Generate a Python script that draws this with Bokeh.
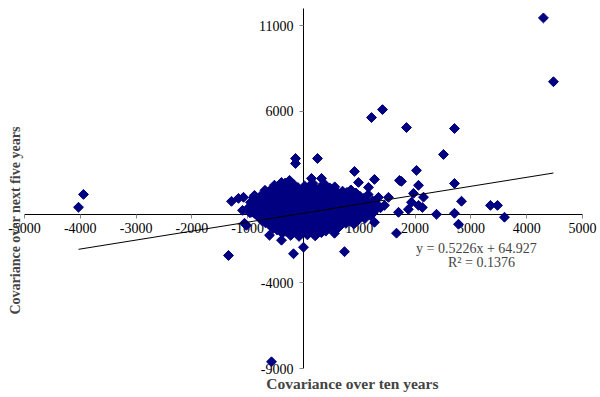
import math
from bokeh.plotting import figure
from bokeh.models import LinearAxis, FixedTicker, Label, Range1d, PrintfTickFormatter
from bokeh.embed import file_html
from bokeh.resources import INLINE

# ---- data (covariance over ten years, covariance over next five years) ----
core_points = [
    (-520, 1700), (-330, 1820), (-180, 1760), (20, 1650), (170, 1800), (390, 1720), (560, 1600),
    (-690, 1400), (-560, 1520), (-420, 1430), (-260, 1480), (-90, 1390), (60, 1510), (230, 1440),
    (380, 1380), (520, 1470), (700, 1350), (850, 1420),
    (-760, 1100), (-610, 1180), (-470, 1130), (-330, 1200), (-190, 1090), (-40, 1160), (110, 1210),
    (270, 1120), (420, 1170), (580, 1080), (730, 1190), (880, 1130), (1010, 1060), (1160, 1150),
    (-820, 820), (-680, 890), (-520, 840), (-390, 900), (-230, 800), (-80, 870), (70, 830),
    (220, 910), (360, 850), (510, 790), (660, 880), (800, 820), (950, 900), (1100, 840), (1240, 780),
    (-860, 520), (-720, 580), (-580, 510), (-440, 600), (-300, 540), (-150, 490), (0, 570),
    (140, 530), (290, 600), (430, 500), (580, 560), (720, 610), (870, 530), (1020, 580),
    (1170, 500), (1320, 560),
    (-900, 230), (-760, 280), (-610, 200), (-470, 300), (-330, 250), (-180, 190), (-40, 280),
    (110, 220), (260, 310), (400, 240), (550, 180), (700, 290), (840, 230), (990, 270),
    (1140, 200), (1290, 260),
    (-830, -80), (-690, -20), (-550, -100), (-400, 0), (-260, -60), (-120, -120), (30, -30),
    (180, -90), (320, 20), (470, -70), (610, -10), (760, -110), (900, -40), (1050, 10), (1200, -80),
    (-740, -380), (-600, -320), (-450, -400), (-310, -300), (-170, -370), (-30, -330), (120, -410),
    (260, -350), (410, -290), (550, -380), (700, -320), (840, -400), (980, -340),
    (-610, -620), (-470, -700), (-320, -640), (-180, -690), (-40, -610), (100, -680), (250, -630),
    (390, -710), (540, -660), (680, -600),
    (-470, -920), (-320, -990), (-180, -940), (-40, -1010), (110, -960), (260, -900), (400, -980),
    (-230, -1230), (-80, -1290), (70, -1200), (210, -1260),
]

fill_points = [
    (-430, 1590), (-250, 1630), (-100, 1560), (100, 1620), (300, 1580), (470, 1540),
    (-620, 1290), (-480, 1310), (-340, 1330), (-170, 1260), (-10, 1300), (160, 1340),
    (320, 1260), (460, 1300), (620, 1250), (780, 1280), (940, 1240),
    (-900, 980), (-750, 1010), (-600, 1040), (-420, 990), (-270, 1030), (-110, 980),
    (30, 1020), (190, 990), (340, 1040), (500, 960), (650, 1010), (800, 980), (960, 1000),
    (1090, 950), (-950, 700), (-800, 680), (-650, 730), (-500, 690), (-350, 720),
    (-200, 660), (-60, 720), (80, 690), (230, 740), (380, 680), (520, 700), (660, 730),
    (810, 690), (960, 720), (1110, 680), (1260, 660), (-980, 400), (-830, 380),
    (-680, 430), (-530, 390), (-380, 410), (-230, 370), (-90, 420), (60, 380),
    (200, 440), (350, 370), (490, 420), (640, 400), (790, 380), (930, 420), (1080, 370),
    (1230, 410), (1380, 380), (-960, 90), (-820, 110), (-670, 70), (-520, 130),
    (-380, 100), (-230, 60), (-80, 120), (60, 80), (210, 130), (360, 90), (510, 110),
    (660, 60), (800, 120), (950, 90), (1100, 130), (1250, 80), (-780, -220),
    (-640, -180), (-500, -240), (-350, -190), (-210, -220), (-70, -170), (80, -230),
    (230, -200), (370, -160), (520, -230), (660, -190), (800, -240), (950, -200),
    (1100, -250), (-680, -500), (-540, -520), (-390, -480), (-250, -540), (-100, -490),
    (40, -520), (190, -500), (330, -540), (480, -500), (620, -480), (760, -530),
    (900, -560), (-540, -820), (-400, -780), (-250, -830), (-110, -800), (40, -840),
    (180, -790), (330, -820), (470, -780), (610, -830), (-380, -1100), (-240, -1090),
    (-100, -1130), (40, -1080), (180, -1110), (320, -1070),
]

edge_points = [
    (-1290, 756), (-1165, 930), (-1075, 990), (-878, 1105), (-878, 580), (-1093, 230),
    (-932, 120), (-1022, -640), (-1057, -523), (-878, 58),
    (-394, 1860), (-250, 1980), (143, 2093), (323, 2093), (914, 2500), (986, 1860),
    (1272, 2035), (1720, 1977), (1165, 1570), (1344, 988), (1523, 988), (1452, 523),
    (1703, 116), (1272, -465), (914, -523), (556, -1105), (-609, -1220), (-394, -1510),
]

outer_points = [
    (4300, 11450), (4480, 7730), (1416, 6105), (1219, 5640), (1846, 5058), (2706, 5000),
    (2509, 3490), (251, 3256), (-143, 3256), (-143, 2965), (2025, 2560), (2061, 1690),
    (2706, 1800), (1971, 1220), (2151, 1000), (1935, 700), (2061, 523), (2130, 400),
    (1880, 290), (2832, 760), (2384, 0), (2706, 60), (2778, -580), (3351, 520),
    (3477, 520), (3602, -170), (1756, 1920), (-4032, 410), (-3943, 1160), (-1344, -2400),
    (-179, -2300), (0, -1920), (735, -2180), (-573, -8600), (1667, -1100),
]

x_ticks = [-5000, -4000, -3000, -2000, -1000, 0, 1000, 2000, 3000, 4000, 5000]
y_ticks = [-9000, -4000, 1000, 6000, 11000]
slope, intercept = 0.5226, 64.927
equation_text = "y = 0.5226x + 64.927"
r2_text = "R\u00b2 = 0.1376"

all_pts = core_points + fill_points + edge_points + outer_points
xs = [pt[0] for pt in all_pts]
ys = [pt[1] for pt in all_pts]

FONT = "Liberation Serif"
W, H = 600, 397

p = figure(width=W, height=H, output_backend="svg", toolbar_location=None,
           x_range=Range1d(-5430, 5323), y_range=Range1d(-10682, 12466),
           x_axis_type=None, y_axis_type=None, min_border=0)
p.outline_line_color = None
p.background_fill_color = "white"


def style_axis(ax):
    ax.axis_line_color = "black"
    ax.axis_line_width = 1
    ax.major_tick_line_color = "#888888"
    ax.major_tick_out = 4
    ax.major_tick_in = 0
    ax.minor_tick_line_color = None
    ax.major_label_text_font = FONT
    ax.major_label_text_font_size = "14px"
    ax.major_label_text_color = "black"
    ax.formatter = PrintfTickFormatter(format="%d")
    ax.level = "underlay"


xaxis = LinearAxis(fixed_location=0, bounds=(-5000, 5000), ticker=FixedTicker(ticks=x_ticks))
style_axis(xaxis)
xaxis.major_label_standoff = 5
p.add_layout(xaxis, "below")

yaxis = LinearAxis(fixed_location=0, bounds=(-9000, 12000), ticker=FixedTicker(ticks=y_ticks))
style_axis(yaxis)
yaxis.major_label_standoff = 6
p.add_layout(yaxis, "left")

p.scatter(xs, ys, marker="square", angle=math.pi / 4, size=7,
          fill_color="#000080", line_color="#000080")

tx = [min(xs), max(xs)]
ty = [slope * v + intercept for v in tx]
p.line(tx, ty, line_color="black", line_width=1)

p.add_layout(Label(x=3100, y=-1982, text=equation_text, text_font=FONT,
                   text_font_size="14px", text_align="center", text_baseline="middle"))
p.add_layout(Label(x=3190, y=-2800, text=r2_text, text_font=FONT,
                   text_font_size="14px", text_align="center", text_baseline="middle"))

p.add_layout(Label(x=352, y=14, x_units="screen", y_units="screen",
                   text="Covariance over ten years", text_font=FONT, text_font_style="bold",
                   text_font_size="15.5px", text_align="center", text_baseline="middle"))
p.add_layout(Label(x=15, y=177, x_units="screen", y_units="screen", angle=math.pi / 2,
                   text="Covariance over next five years", text_font=FONT,
                   text_font_style="bold", text_font_size="14px",
                   text_align="center", text_baseline="middle"))

open("out.html", "w").write(file_html(p, INLINE))
